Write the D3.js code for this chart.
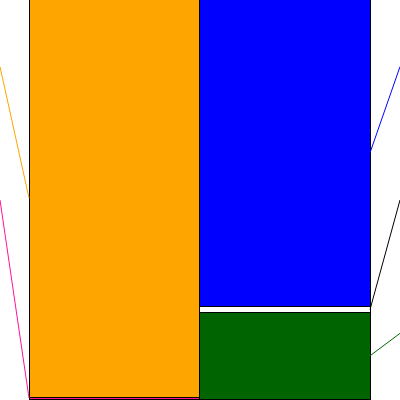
<!DOCTYPE html>
<html>
<head>
<meta charset="utf-8">
<script src="https://cdn.jsdelivr.net/npm/d3@7"></script>
<style>
  body { margin: 0; background: #fff; }
  svg { display: block; }
</style>
</head>
<body>
<div id="chart"></div>
<script>
// columns of the chart
var columns = ["left", "right"];

// left column, stacked bottom to top
var leftNames  = ["pink", "orange"];
var leftValues = [0.5, 99.5];
var leftColors = ["#ff1493", "#ffa500"];

// right column, stacked bottom to top
var rightNames  = ["green", "white", "blue"];
var rightValues = [21.6, 1.5, 76.9];
var rightColors = ["#006400", "#ffffff", "#0000ff"];
var rightLineColors = ["#006400", "#000000", "#0000ff"];

var width = 400, height = 400;
// top edge sits just above the window, as in the original
var margin = {top: -1, right: 30, bottom: 1, left: 29};

var svg = d3.select("#chart").append("svg")
    .attr("width", width)
    .attr("height", height);

var x = d3.scaleBand()
    .domain(columns)
    .range([margin.left, width - margin.right])
    .paddingInner(0);

var y = d3.scaleLinear()
    .domain([0, 100])
    .range([height - margin.bottom, margin.top]);

// label slots along the sides (top, middle, bottom)
var slot = d3.scaleBand().domain([0, 1, 2]).range([0, height]);

function stack(names, values, colors) {
  var acc = 0;
  return names.map(function(n, i) {
    var d = {name: n, y0: acc, y1: acc + values[i], color: colors[i]};
    acc += values[i];
    return d;
  });
}

var left = stack(leftNames, leftValues, leftColors);
var right = stack(rightNames, rightValues, rightColors);
right.forEach(function(d, i) { d.line = rightLineColors[i]; });

// bars
function drawColumn(data, col) {
  svg.append("g").selectAll("rect")
      .data(data)
    .enter().append("rect")
      .attr("x", x(col))
      .attr("width", x.bandwidth())
      .attr("y", function(d) { return y(d.y1); })
      .attr("height", function(d) { return y(d.y0) - y(d.y1); })
      .attr("fill", function(d) { return d.color; })
      .attr("stroke", "#000")
      .attr("stroke-width", 1)
      .attr("shape-rendering", "crispEdges");
}
drawColumn(left, "left");
drawColumn(right, "right");

// leader lines, left side (top slot = orange, middle = pink)
var leftOrder = left.slice().reverse();
svg.append("g").selectAll("line")
    .data(leftOrder)
  .enter().append("line")
    .attr("x1", 0)
    .attr("y1", function(d, i) { return slot(i) + slot.bandwidth() / 2; })
    .attr("x2", x("left"))
    .attr("y2", function(d) { return y((d.y0 + d.y1) / 2); })
    .attr("stroke", function(d) { return d.color; })
    .attr("stroke-width", 1);

// leader lines, right side (blue, white, green)
var rightOrder = right.slice().reverse();
svg.append("g").selectAll("line")
    .data(rightOrder)
  .enter().append("line")
    .attr("x1", width)
    .attr("y1", function(d, i) { return slot(i) + slot.bandwidth() / 2; })
    .attr("x2", x("right") + x.bandwidth())
    .attr("y2", function(d) { return y((d.y0 + d.y1) / 2); })
    .attr("stroke", function(d) { return d.line; })
    .attr("stroke-width", 1);
</script>
</body>
</html>
